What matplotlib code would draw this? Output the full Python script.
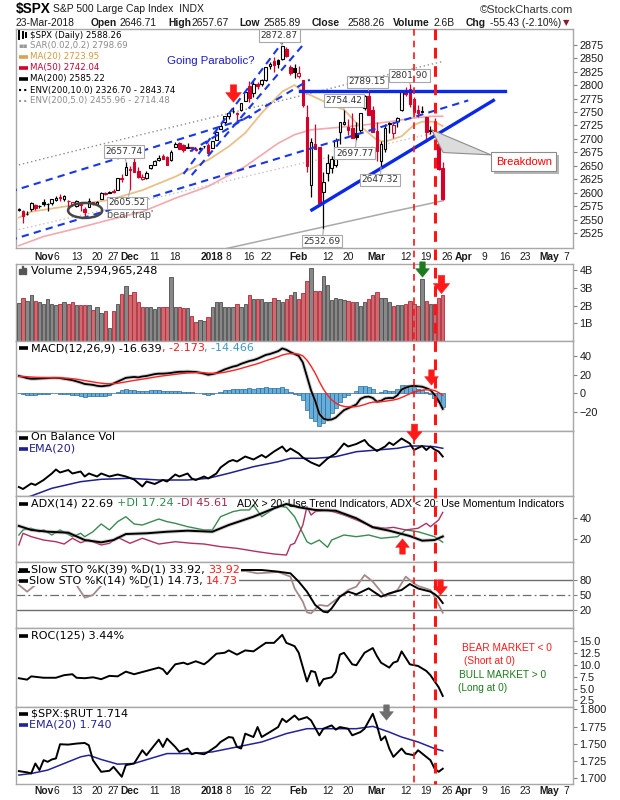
import matplotlib
matplotlib.use('Agg')
import matplotlib.pyplot as plt
import numpy as np
from matplotlib.path import Path
from matplotlib.patches import Rectangle, Ellipse, Polygon
from matplotlib.lines import Line2D
import matplotlib.transforms as mtransforms
import matplotlib.patheffects as pe

plt.rcParams['font.family'] = ['Liberation Sans', 'DejaVu Sans']

# ---------------------------------------------------------------- data
# daily OHLC, 24-Oct-2017 .. 23-Mar-2018 (trading-day index 0..103)
opens = [2568.66, 2566.52, 2560.08, 2570.26, 2577.75, 2575.99,
         2583.21, 2579.46, 2581.93, 2587.47, 2592.11, 2588.71, 2584.00, 2580.18, 2576.53, 2577.75, 2569.45,
         2572.95, 2582.94, 2579.49, 2589.17, 2600.31, 2600.42, 2602.66, 2605.94, 2627.82, 2633.93,
         2645.10, 2657.19, 2639.78, 2626.24, 2628.38, 2646.21, 2652.19, 2661.73, 2667.59, 2665.87, 2660.63,
         2685.92, 2692.71, 2688.18, 2683.02, 2684.22, 2679.09, 2682.10, 2686.10, 2689.15,
         2683.73, 2697.85, 2719.31, 2731.33, 2742.67, 2751.15, 2745.55, 2752.97, 2770.18, 2798.96, 2784.99,
         2802.40, 2802.60, 2809.16, 2835.05, 2845.42, 2846.24, 2847.48, 2867.23, 2832.74, 2832.41,
         2816.45, 2808.92, 2741.06, 2614.78, 2690.95, 2685.01, 2601.78, 2636.75, 2646.27, 2651.21, 2713.46,
         2727.14, 2722.99, 2720.53, 2710.42, 2715.80, 2757.37, 2780.45, 2753.78,
         2715.22, 2658.89, 2681.06, 2730.18, 2710.18, 2732.75, 2752.91, 2790.54, 2792.31, 2774.06, 2754.27,
         2750.57, 2741.38, 2715.05, 2714.99, 2691.36, 2646.71]
highs = [2572.18, 2567.40, 2567.07, 2582.98, 2580.03, 2578.29,
         2588.40, 2581.11, 2588.42, 2593.38, 2597.02, 2595.47, 2586.50, 2583.81, 2587.66, 2579.66, 2572.84,
         2590.09, 2583.96, 2584.64, 2601.19, 2600.94, 2604.21, 2606.41, 2627.69, 2634.89, 2657.74,
         2650.62, 2665.19, 2648.72, 2634.41, 2640.99, 2651.65, 2660.33, 2669.72, 2671.88, 2668.09, 2679.63,
         2694.97, 2694.44, 2691.01, 2692.64, 2685.35, 2682.74, 2685.64, 2687.66, 2692.12,
         2695.89, 2714.37, 2729.29, 2743.45, 2748.51, 2759.14, 2750.80, 2767.56, 2787.85, 2807.54, 2807.04,
         2805.83, 2810.33, 2833.03, 2842.24, 2852.97, 2848.56, 2872.87, 2870.62, 2837.75, 2839.26,
         2835.96, 2808.92, 2763.39, 2701.04, 2727.67, 2685.27, 2638.67, 2672.61, 2668.84, 2702.10, 2731.51,
         2754.42, 2737.60, 2747.75, 2731.26, 2747.76, 2780.64, 2789.15, 2761.52,
         2730.89, 2696.25, 2728.09, 2732.08, 2730.60, 2740.45, 2786.57, 2796.98, 2801.90, 2777.11, 2763.03,
         2761.85, 2741.38, 2724.22, 2739.14, 2695.68, 2657.67]
lows = [2565.58, 2544.00, 2559.80, 2565.94, 2568.25, 2572.15,
        2574.92, 2566.17, 2576.77, 2585.66, 2584.35, 2585.02, 2566.33, 2575.57, 2574.48, 2566.56, 2557.45,
        2572.95, 2577.62, 2578.24, 2589.17, 2595.23, 2600.42, 2598.87, 2605.44, 2620.32, 2633.93,
        2605.52, 2639.03, 2627.73, 2624.75, 2626.53, 2644.10, 2651.47, 2659.78, 2662.85, 2652.01, 2659.14,
        2685.92, 2680.74, 2676.11, 2682.40, 2678.13, 2677.96, 2678.91, 2682.69, 2673.61,
        2682.36, 2697.77, 2719.07, 2727.92, 2737.60, 2747.86, 2736.06, 2752.78, 2769.64, 2768.64, 2778.38,
        2792.56, 2798.08, 2808.12, 2830.59, 2824.81, 2830.94, 2846.18, 2851.48, 2818.27, 2813.04,
        2812.70, 2759.97, 2638.17, 2593.07, 2681.33, 2580.56, 2532.69, 2622.45, 2637.08, 2648.87, 2689.82,
        2725.11, 2706.76, 2701.29, 2697.77, 2713.74, 2753.78, 2744.22, 2713.54,
        2659.65, 2647.32, 2675.75, 2711.26, 2701.74, 2721.92, 2751.54, 2779.26, 2758.68, 2744.38, 2741.47,
        2749.97, 2694.59, 2710.05, 2709.79, 2641.59, 2585.89]
closes = [2569.13, 2557.15, 2560.40, 2581.07, 2572.83, 2575.26,
          2579.36, 2579.85, 2587.84, 2591.13, 2590.64, 2594.38, 2584.62, 2582.30, 2584.84, 2578.87, 2564.62,
          2585.64, 2578.85, 2582.14, 2599.03, 2597.08, 2602.42, 2601.42, 2627.04, 2626.07, 2647.58,
          2642.22, 2639.44, 2629.57, 2629.27, 2636.98, 2651.50, 2659.99, 2664.11, 2662.85, 2652.01, 2675.81,
          2690.16, 2681.47, 2679.25, 2684.57, 2683.34, 2680.50, 2682.62, 2687.54, 2673.61,
          2695.81, 2713.06, 2723.99, 2743.15, 2747.71, 2751.29, 2748.23, 2767.56, 2786.24, 2776.42, 2802.56,
          2798.03, 2810.30, 2832.97, 2839.13, 2837.54, 2839.25, 2872.87, 2853.53, 2822.43, 2823.81,
          2821.98, 2762.13, 2648.94, 2695.14, 2681.66, 2581.00, 2619.55, 2656.00, 2662.94, 2698.63, 2731.20,
          2732.22, 2716.26, 2701.33, 2703.96, 2747.30, 2779.60, 2744.28, 2713.83,
          2677.67, 2691.25, 2720.94, 2728.12, 2726.80, 2738.97, 2786.57, 2783.02, 2765.31, 2749.48, 2747.33,
          2752.01, 2712.92, 2716.94, 2711.93, 2643.69, 2588.26]
prev_close0 = 2564.98

volume_b = [2.13, 2.41, 2.26, 2.58, 2.26, 2.22,
            2.07, 2.37, 2.07, 2.03, 2.07, 2.18, 2.07, 2.18, 2.03, 2.03, 2.03, 2.03, 1.75, 1.92, 1.56,
            1.69, 0.72, 1.69, 2.07, 2.64, 3.11,
            2.60, 2.75, 2.22, 1.94, 1.94, 1.90, 1.81, 1.94, 1.94, 1.94, 3.63, 1.94, 1.94, 1.88, 1.88,
            1.41, 1.05, 1.19, 1.11, 1.34,
            1.94, 2.18, 2.18, 1.94, 1.94, 1.94, 2.07, 1.94, 2.07, 2.60, 2.40, 2.35, 2.40, 2.20, 2.20,
            2.45, 2.30, 2.20, 2.40, 2.60, 2.75,
            2.35, 2.70, 3.40, 4.10, 2.85, 2.80, 3.65, 3.15, 2.30, 2.45, 2.35, 2.30, 2.25, 2.20, 2.20,
            2.00, 2.20, 2.35, 2.60,
            2.75, 2.45, 2.45, 2.20, 1.95, 2.05, 2.05, 2.10, 2.25, 2.10, 2.00, 3.50, 2.25, 2.10, 2.10,
            2.45, 2.595]

tick_idx = [6, 9, 14, 19, 23, 27, 33, 38, 47, 51, 56, 60, 68, 75, 80, 87, 94, 99, 104, 108, 113, 118, 123, 129, 133]
tick_lbl = ['Nov', '6', '13', '20', '27', 'Dec', '11', '18', '2018', '8', '16', '22', 'Feb', '12', '20',
            'Mar', '12', '19', '26', 'Apr', '9', '16', '23', 'May', '7']
bold_lbl = ['Nov', 'Dec', '2018', 'Feb', 'Mar', 'Apr', 'May']

ma20_idx = [0, 3, 14, 22, 30, 38, 43, 46, 51, 55, 59, 64, 67, 69, 74, 79, 82, 85, 87, 89, 93, 96, 98, 101, 103]
ma20_val = [2554, 2565, 2578, 2587, 2605, 2630, 2649, 2661, 2686, 2711, 2748, 2788, 2800, 2788, 2770, 2754,
            2730, 2711, 2698, 2695, 2705, 2726, 2732, 2732, 2723.95]
ma50_idx = [0, 6, 14, 22, 30, 38, 46, 55, 63, 67, 71, 77, 84, 90, 96, 100, 103]
ma50_val = [2502, 2519, 2534, 2550, 2565, 2590, 2612, 2649, 2692, 2708, 2717, 2721, 2726, 2732, 2739, 2742, 2742.04]
ma200_idx = [0, 20, 40, 60, 70, 80, 90, 103]
ma200_val = [2411, 2445, 2479, 2513, 2530, 2547, 2564, 2585.22]
env10_val = [2652, 2690, 2727, 2764, 2783, 2802, 2820, 2843.74]
env5_val = [2532, 2567, 2603, 2639, 2657, 2674, 2692, 2714.48]

macd_line = [18.5, 17.5, 16.2, 15.5, 15.5, 15.8, 16.0, 16.2, 16.5, 16.5,
             16.2, 15.5, 14.8, 14.0, 12.8, 11.5, 10.0, 9.5, 9.0, 8.0,
             7.5, 8.0, 8.5, 10.5, 12.5, 14.5, 16.5, 17.0, 17.5, 17.0,
             18.0, 18.5, 19.5, 20.5, 21.0, 21.0, 21.3, 21.8, 22.5, 23.0,
             23.0, 23.2, 23.0, 22.8, 22.0, 21.0, 19.8, 20.5, 21.5, 23.5,
             25.5, 27.0, 28.5, 29.5, 31.5, 33.0, 34.5, 35.5, 37.0, 39.0,
             41.0, 42.0, 43.5, 45.0, 48.0, 46.5, 44.0, 42.0, 40.0, 33.0,
             18.0, 3.0, -8.0, -22.0, -27.0, -28.5, -28.0, -26.0, -22.0, -18.0,
             -16.0, -14.0, -12.0, -6.0, -4.0, -3.5, -5.0, -9.0, -8.0, -5.5,
             -5.0, -5.0, -2.0, 4.0, 6.0, 7.5, 8.0, 7.5, 7.0, 5.5,
             3.5, -1.5, -8.0, -16.639]
macd_signal = [18.0, 17.9, 17.7, 17.4, 17.1, 16.9, 16.8, 16.7, 16.6, 16.6,
               16.5, 16.3, 16.0, 15.6, 15.1, 14.4, 13.6, 12.9, 12.2, 11.4,
               10.8, 10.4, 10.2, 10.3, 10.7, 11.4, 12.2, 13.0, 13.8, 14.4,
               15.1, 15.8, 16.5, 17.3, 18.0, 18.6, 19.1, 19.7, 20.3, 20.8,
               21.3, 21.7, 21.9, 22.1, 22.1, 21.9, 21.5, 21.3, 21.4, 21.8,
               22.5, 23.4, 24.4, 25.4, 26.6, 27.9, 29.2, 30.4, 31.7, 33.2,
               34.8, 36.2, 37.6, 39.1, 40.9, 42.0, 42.4, 42.3, 41.8, 40.0,
               35.5, 29.0, 21.5, 12.5, 4.5, -2.0, -7.0, -10.5, -12.8, -14.0,
               -14.5, -14.5, -14.2, -13.3, -12.0, -10.5, -9.5, -9.3, -9.0, -8.5,
               -7.8, -7.2, -6.2, -4.5, -2.5, -0.5, 1.2, 2.5, 3.4, 3.8,
               3.8, 3.0, 0.8, -2.173]

obv_idx = [0, 1, 3, 4, 6, 8, 9, 10, 12, 13, 15, 16, 17, 19, 20, 22, 24, 26, 28, 30, 31, 33, 35, 36, 38, 39,
           41, 42, 43, 45, 46, 48, 49, 51, 52, 53, 55, 57, 59, 60, 62, 64, 65, 66, 68, 69, 71, 73, 75, 77,
           79, 80, 82, 84, 85, 87, 89, 90, 91, 93, 95, 96, 98, 99, 100, 101, 102, 103]
obv_val = [9, 7, 12.5, 11, 16, 22.5, 26.5, 23.5, 26, 22.5, 24.5, 19.5, 22.5, 19.5, 22.5, 19.5, 21.5, 19.5,
           16.5, 9.5, 14.5, 12, 16, 14.5, 21.5, 19.5, 22.5, 17.5, 16, 19.5, 17.5, 22.5, 28.5, 34.5, 36,
           34.5, 39.5, 36.5, 41, 38.5, 44.5, 49.5, 44.5, 47.5, 42.5, 38.5, 33.5, 30, 37.5, 42.5, 52.5,
           49.5, 52, 56, 51, 45, 49.5, 53.5, 51, 57.5, 52.5, 46, 50, 46, 49.5, 46.5, 44.5, 39.5]
obv_ema_idx = [0, 3, 8, 15, 20, 27, 34, 41, 46, 51, 57, 63, 66, 68, 72, 77, 82, 87, 92, 95, 98, 101, 103]
obv_ema_val = [-4, 0, 7.7, 14.3, 16.7, 17.7, 16, 16, 17.7, 22.7, 29.3, 34.3, 37.7, 37.7, 37.7, 39.3, 44.3,
               46, 47.7, 50, 50, 49.3, 47.7]

adx_idx = [0, 3, 7, 12, 16, 20, 23, 26, 31, 36, 41, 47, 51, 57, 62, 65, 68, 72, 77, 82, 86, 90, 95, 98, 101, 103]
adx_val = [32.7, 28.9, 27.2, 26.3, 19.3, 17.1, 19.3, 25.0, 25.7, 27.2, 28.2, 27.2, 33.6, 41.5, 49.5, 53.6,
           50.5, 47.9, 47.2, 40.0, 31.4, 28.2, 23.1, 18.7, 19.3, 22.69]
pdi_idx = [0, 1, 3, 5, 6, 8, 10, 13, 15, 16, 18, 20, 22, 24, 26, 28, 30, 34, 36, 38, 41, 45, 47, 49, 52, 54,
           56, 57, 59, 63, 65, 67, 68, 70, 71, 73, 75, 76, 79, 82, 85, 88, 92, 94, 97, 101, 103]
pdi_val = [24.1, 28.9, 30.5, 27.2, 28.9, 24.1, 28.9, 22.5, 25.7, 22.5, 27.2, 34.6, 28.9, 36.8, 41.5, 34.6,
           33.6, 39.3, 36.8, 35.2, 32.0, 28.9, 28.9, 41.5, 46.3, 47.9, 47.9, 52.7, 41.5, 51.7, 50.5, 41.5,
           33.6, 17.7, 15.5, 19.3, 12.4, 19.3, 24.1, 22.5, 24.1, 21.0, 22.5, 28.9, 27.2, 22.5, 17.24]
mdi_idx = [0, 1, 3, 6, 9, 11, 13, 15, 17, 20, 22, 24, 27, 30, 34, 38, 42, 45, 49, 53, 58, 62, 65, 66, 67, 69,
           70, 71, 72, 75, 79, 82, 86, 89, 91, 94, 97, 99, 100, 102, 103]
mdi_val = [14.6, 25.7, 22.5, 19.3, 17.7, 15.5, 21.0, 16.8, 19.3, 14.6, 16.2, 21.9, 16.2, 21.0, 15.5, 17.7,
           16.2, 15.5, 13.0, 11.4, 8.2, 6.0, 5.0, 14.6, 16.2, 33.6, 51.0, 43.1, 46.3, 47.9, 43.1, 38.4,
           32.0, 30.5, 31.4, 28.9, 30.5, 35.2, 32.0, 38.4, 45.61]

sto39_idx = [0, 10, 20, 30, 40, 47, 54, 59, 63, 66, 68, 70, 72, 74, 75, 76, 78, 80, 82, 85, 88, 90, 93, 95,
             97, 100, 101, 102, 103]
sto39_val = [96, 97, 95, 98, 97, 96, 100, 100, 96.7, 93.3, 76.7, 56.7, 30, 16.7, 15.3, 23.3, 46.7, 56.7,
             51.3, 63.3, 46.7, 53.3, 60, 72, 63, 56.7, 52, 45, 33.92]
sto14_idx = [0, 2, 4, 6, 9, 12, 14, 16, 18, 20, 22, 25, 28, 30, 31, 32, 35, 40, 45, 46, 48, 51, 55, 58, 63,
             66, 67, 69, 70, 71, 73, 75, 78, 80, 82, 84, 86, 89, 92, 94, 96, 97, 100, 101, 103]
sto14_val = [70, 56.7, 70, 90, 96, 92, 70, 44.7, 50, 68.7, 92, 97, 95, 73.3, 65.3, 70, 90, 95, 86.7, 73.3,
             90, 97, 98, 93.3, 96, 86.7, 63.3, 36.7, 15.3, 13.3, 30, 28, 46.7, 60, 66.7, 90, 76.7, 46.7,
             60, 86.7, 73.3, 68, 60, 46.7, 14.73]

roc_idx = [0, 2, 3, 6, 9, 11, 13, 14, 16, 18, 20, 22, 24, 26, 28, 31, 34, 35, 36, 38, 40, 41, 43, 45, 46, 48,
           50, 51, 53, 55, 57, 58, 60, 62, 64, 65, 67, 68, 70, 71, 72, 73, 74, 76, 77, 78, 79, 81, 82, 84,
           86, 87, 88, 90, 91, 92, 93, 95, 97, 99, 100, 102, 103]
roc_val = [7.2, 6.9, 7.6, 7.3, 7.3, 7.85, 8.05, 7.3, 7.2, 7.4, 7.0, 7.7, 7.6, 8.6, 8.05, 8.75, 9.45, 9.1,
           8.05, 10.15, 10.5, 10.15, 10.8, 10.15, 10.8, 12.4, 12.6, 13.1, 12.2, 13.1, 12.9, 13.5, 14.7,
           14.7, 16.4, 14.7, 14.0, 12.6, 6.5, 8.75, 8.5, 5.6, 7.0, 7.4, 8.5, 12.2, 12.6, 10.15, 9.95,
           12.6, 13.6, 11.9, 10.5, 9.45, 10.5, 10.8, 12.9, 10.15, 9.8, 8.75, 7.85, 5.3, 3.44]

rut_idx = [0, 2, 3, 4, 5, 6, 7, 8, 9, 10, 12, 14, 16, 17, 18, 20, 22, 23, 25, 26, 28, 30, 31, 34, 35, 36, 38,
           39, 41, 42, 43, 45, 46, 48, 49, 51, 52, 53, 54, 55, 57, 58, 59, 61, 63, 64, 65, 67, 68, 70, 71,
           73, 74, 76, 77, 78, 80, 81, 83, 84, 86, 87, 88, 89, 90, 91, 93, 94, 96, 97, 99, 100, 101, 102, 103]
rut_val = [1.7105, 1.7087, 1.7072, 1.7216, 1.712, 1.7264, 1.724, 1.7274, 1.7289, 1.7495, 1.749, 1.7505,
           1.7514, 1.748, 1.7264, 1.7095, 1.711, 1.7167, 1.7023, 1.7192, 1.7216, 1.7408, 1.7336, 1.7562,
           1.7456, 1.7577, 1.7456, 1.7384, 1.7433, 1.735, 1.737, 1.735, 1.7384, 1.7466, 1.7528, 1.76,
           1.7591, 1.7456, 1.7433, 1.7649, 1.76, 1.7745, 1.76, 1.7672, 1.7745, 1.7866, 1.7817, 1.7913,
           1.7851, 1.7889, 1.7841, 1.7625, 1.7721, 1.7769, 1.7707, 1.7745, 1.7721, 1.7625, 1.7672, 1.7721,
           1.7938, 1.7769, 1.7553, 1.761, 1.7433, 1.7312, 1.7433, 1.736, 1.7336, 1.7408, 1.7312, 1.7264,
           1.7144, 1.7095, 1.714]
rut_ema_idx = [0, 3, 7, 11, 15, 17, 20, 24, 28, 32, 36, 42, 47, 53, 59, 65, 70, 76, 82, 86, 90, 93, 97, 101, 103]
rut_ema_val = [1.7048, 1.707, 1.712, 1.7216, 1.7312, 1.7336, 1.7274, 1.7206, 1.7216, 1.7289, 1.736, 1.736,
               1.7384, 1.7456, 1.7528, 1.765, 1.7721, 1.7721, 1.7721, 1.7755, 1.7672, 1.76, 1.7528,
               1.7433, 1.740]

# hand-drawn annotations (date index, price)
dashed_trend = [((-2.2, 2512), (109.2, 2771.5)), ((-2.2, 2602), (56.6, 2741)),
                ((41.6, 2677), (70.7, 2810)), ((40, 2635), (65.1, 2890)), ((42, 2633), (69.1, 2875))]
solid_trend = [((68.3, 2789), (118.1, 2789)), ((71.2, 2568.3), (115.3, 2771.5))]
marker_days = [96, 101]
label_vals = [2872.87, 2657.74, 2605.52, 2789.15, 2801.90, 2754.42, 2697.77, 2647.32, 2532.69]
label_days = [64, 26, 27, 85, 95, 79, 82, 88, 74]
label_box_x = [63.3, 25.6, 26.3, 84.7, 94.9, 78.9, 81.6, 87.8, 73.7]
label_box_y = [2892, 2676.7, 2581.7, 2806.2, 2817.7, 2771.5, 2673.7, 2624, 2510.1]

# ---------------------------------------------------------------- figure
W, H = 620, 800
fig = plt.figure(figsize=(W / 100, H / 100), dpi=100)
fig.patch.set_facecolor('white')
renderer = fig.canvas.get_renderer()
X0, X1 = 16, 573
XLIM = (-0.7, 134.65)
LEG = 'DejaVu Sans'
LEGSZ = 6.2      # price-panel legend
PSZ = 8.0        # indicator-panel legends


def add_panel(top, bottom):
    ax = fig.add_axes([X0 / W, 1 - bottom / H, (X1 - X0) / W, (bottom - top) / H])
    ax.set_xlim(*XLIM)
    for s in ax.spines.values():
        s.set_color('#a8a8a8')
        s.set_linewidth(1.0)
    ax.yaxis.tick_right()
    ax.tick_params(axis='y', direction='out', length=3, width=0.8, color='#808080',
                   labelsize=7.8, pad=1.5, labelcolor='#1a1a1a')
    ax.set_xticks([])
    return ax


def seq(x_px, y_px, pieces, size=LEGSZ, family=LEG, bbox=None):
    x = x_px
    for p in pieces:
        txt, col = p[0], p[1]
        wt = p[2] if len(p) > 2 else 'normal'
        t = fig.text(x / W, 1 - y_px / H, txt, color=col, fontsize=size, fontweight=wt,
                     family=family, ha='left', va='center', parse_math=False, zorder=15)
        if bbox is not None:
            t.set_bbox(bbox)
        x = t.get_window_extent(renderer).x1
    return x


def icon(x0, x1, y, color, lw=2.6, ls='-'):
    fig.add_artist(Line2D([x0 / W, x1 / W], [1 - y / H, 1 - y / H], color=color, lw=lw, ls=ls,
                          solid_capstyle='butt', zorder=15))


def arrow_path(up=False):
    v = [(-0.36, 1), (0.36, 1), (0.36, 0.1), (0.9, 0.1), (0, -1), (-0.9, 0.1), (-0.36, 0.1), (-0.36, 1)]
    if up:
        v = [(a, -b) for a, b in v]
    return Path(v, [Path.MOVETO] + [Path.LINETO] * 6 + [Path.CLOSEPOLY])


def arrow(ax, x, y, color, size=11.5, up=False):
    ax.plot([x], [y], marker=arrow_path(up), markersize=size, color=color, mec=color, mew=0.4,
            clip_on=False, zorder=30, ls='none')


ax_p = add_panel(29, 248)
ax_v = add_panel(264, 341)
ax_m = add_panel(341, 431)
ax_o = add_panel(431, 496)
ax_a = add_panel(496, 562)
ax_s = add_panel(562, 628)
ax_r = add_panel(628, 707)
ax_x = add_panel(707, 784)

RED = '#d4002a'
n = len(closes)
prev = [prev_close0] + closes[:-1]

# ---------------- price panel
ax_p.set_ylim(2497.7, 2904)
ax_p.set_yticks(np.arange(2525, 2876, 25))
ax_p.plot(ma200_idx, env10_val, color='#8f8f8f', lw=1.0, ls=(0, (1, 2)), zorder=2)
ax_p.plot(ma200_idx, env5_val, color='#c4c4c4', lw=1.0, ls=(0, (1, 2)), zorder=2)
ax_p.plot(ma200_idx, ma200_val, color='#a9a9a9', lw=1.1, zorder=2)
ax_p.plot(ma50_idx, ma50_val, color='#f3a9ad', lw=1.2, zorder=2)
ax_p.plot(ma20_idx, ma20_val, color='#e9c088', lw=1.3, zorder=2)
for i in range(n):
    o, h, l, c = opens[i], highs[i], lows[i], closes[i]
    col = RED if c < prev[i] else 'black'
    ax_p.plot([i, i], [l, h], color=col, lw=0.9, zorder=3, solid_capstyle='butt')
    bot, top = min(o, c), max(o, c)
    face = 'white' if c >= o else col
    ax_p.add_patch(Rectangle((i - 0.32, bot), 0.64, max(top - bot, 0.7), facecolor=face,
                             edgecolor=col, lw=0.8, zorder=4))
for (a, b) in dashed_trend:
    ax_p.plot([a[0], b[0]], [a[1], b[1]], color='#1837e8', lw=1.5, ls=(0, (3.5, 2.5)), zorder=5)
for (a, b) in solid_trend:
    ax_p.plot([a[0], b[0]], [a[1], b[1]], color='#0a28e8', lw=2.4, zorder=5)
for v, d, bx, by in zip(label_vals, label_days, label_box_x, label_box_y):
    ax_p.annotate(f'{v:.2f}', xy=(d, v), xytext=(bx, by), ha='center', va='center', fontsize=6.5,
                  family=LEG, color='#333333', zorder=12, annotation_clip=False,
                  bbox=dict(boxstyle='square,pad=0.18', fc='white', ec='#a8a8a8', lw=0.8),
                  arrowprops=dict(arrowstyle='-', color='#a8a8a8', lw=0.8, shrinkA=0, shrinkB=0))
ax_p.add_patch(Ellipse((16.1, 2567.4), 8.3, 27.9, fill=False, ec='#474747', lw=1.8, zorder=6))
ax_p.text(21.3, 2559, "bear trap'", fontsize=7.8, color='#555555', va='center', ha='left', zorder=7)
ax_p.text(35.9, 2844, 'Going Parabolic?', fontsize=8.2, color='#1a1acc', va='center', ha='left', zorder=7)
ax_p.add_patch(Polygon([(100.3, 2717), (114.7, 2670.5), (103.1, 2674.8)], closed=True, fc='#dcdcdc',
                       ec='#8c8c8c', lw=0.8, zorder=11))
bt = ax_p.text(122.7, 2657.5, 'Breakdown', ha='center', va='center', fontsize=8, color='#ff0000',
               zorder=12, bbox=dict(boxstyle='square,pad=0.4', fc='white', ec='#8c8c8c', lw=0.8))
bt.get_bbox_patch().set_path_effects([pe.SimplePatchShadow(offset=(2, -2), shadow_rgbFace='#b5b5b5', alpha=1),
                                      pe.Normal()])
arrow(ax_p, 52.1, 2785, '#ff1a1a', size=12.5)

# ---------------- volume
ax_v.set_ylim(0, 4.35)
ax_v.set_yticks([1, 2, 3, 4])
ax_v.set_yticklabels(['1B', '2B', '3B', '4B'])
for i in range(n):
    down = closes[i] < prev[i]
    ax_v.bar(i, volume_b[i], width=0.82, color='#d06a6e' if down else '#888888',
             edgecolor='#b3283c' if down else '#4d4d4d', lw=0.6, zorder=3)
arrow(ax_v, 98, 4.04, '#1e7a1e', size=11)
arrow(ax_v, 102.6, 3.2, '#ff1a1a', size=13)

# ---------------- MACD
ax_m.set_ylim(-40.3, 55.9)
ax_m.set_yticks([-20, 0, 20, 40])
hist = np.array(macd_line) - np.array(macd_signal)
ax_m.bar(np.arange(n), hist, width=1.0, color='#66aedb', edgecolor='#2d6b98', lw=0.5, zorder=2)
ax_m.plot(np.arange(n), macd_line, color='#9a9a9a', lw=2.8, alpha=0.45, zorder=3)
ax_m.plot(np.arange(n), macd_line, color='black', lw=1.3, zorder=4)
ax_m.plot(np.arange(n), macd_signal, color='#ff2020', lw=1.0, zorder=4)
arrow(ax_m, 100.1, 16.9, '#ff1a1a', size=11)

# ---------------- OBV
ax_o.set_ylim(0, 65)
ax_o.set_yticks([])
ax_o.plot(obv_ema_idx, obv_ema_val, color='#1f1f8f', lw=1.1, zorder=3)
ax_o.plot(obv_idx, obv_val, color='black', lw=1.4, zorder=4)
arrow(ax_o, 96.1, 64.5, '#ff1a1a', size=12)

# ---------------- ADX
ax_a.set_ylim(-1.6, 61.2)
ax_a.set_yticks([20, 40])
ax_a.plot(pdi_idx, pdi_val, color='#3c8a52', lw=1.0, zorder=3)
ax_a.plot(mdi_idx, mdi_val, color='#b03060', lw=1.0, zorder=3)
ax_a.plot(adx_idx, adx_val, color='#9a9a9a', lw=2.8, alpha=0.45, zorder=4)
ax_a.plot(adx_idx, adx_val, color='black', lw=1.4, zorder=5)
arrow(ax_a, 93.1, 14.1, '#ff1a1a', size=11, up=True)

# ---------------- Slow STO
ax_s.set_ylim(-16, 116)
ax_s.set_yticks([20, 50, 80])
ax_s.axhline(80, color='#6e6e6e', lw=1.0, zorder=1)
ax_s.axhline(20, color='#6e6e6e', lw=1.0, zorder=1)
ax_s.axhline(50, color='#6e6e6e', lw=0.9, ls=(0, (7, 2.5, 1.5, 2.5)), zorder=1)
ax_s.plot(sto14_idx, sto14_val, color='#a58a8a', lw=1.3, zorder=3)
ax_s.plot(sto39_idx, sto39_val, color='black', lw=1.4, zorder=4)
arrow(ax_s, 102.3, 67, '#ff1a1a', size=11)

# ---------------- ROC
ax_r.set_ylim(1.1, 17.85)
ax_r.set_yticks([2.5, 5, 7.5, 10, 12.5, 15])
ax_r.set_yticklabels(['2.5', '5.0', '7.5', '10.0', '12.5', '15.0'])
ax_r.plot(roc_idx, roc_val, color='black', lw=1.4, zorder=4)

# ---------------- SPX:RUT
ax_x.set_ylim(1.6918, 1.8036)
ax_x.set_yticks([1.700, 1.725, 1.750, 1.775, 1.800])
ax_x.set_yticklabels(['1.700', '1.725', '1.750', '1.775', '1.800'])
ax_x.plot(rut_ema_idx, rut_ema_val, color='#22229a', lw=1.1, zorder=3)
ax_x.plot(rut_idx, rut_val, color='black', lw=1.4, zorder=4)
arrow(ax_x, 89.3, 1.7957, '#6e6e6e', size=11)

# ---------------- date labels and signal lines
trans = mtransforms.blended_transform_factory(ax_p.transData, fig.transFigure)
for ti, tl in zip(tick_idx, tick_lbl):
    for ypx in (256.5, 791.5):
        fig.text(ti, 1 - ypx / H, tl, transform=trans, ha='center', va='center', fontsize=7.4,
                 fontweight='bold' if tl in bold_lbl else 'normal', color='#1a1a1a')
for k, xi in enumerate(marker_days):
    fig.add_artist(Line2D([xi, xi], [1 - 29 / H, 1 - 784 / H], transform=trans, color='#ff1414',
                          lw=1.2 if k == 0 else 2.2, ls=(0, (4, 3)) if k == 0 else (0, (3.5, 2.5)), zorder=20))

# ---------------- header
seq(16, 9.5, [('$SPX', 'black', 'bold')], size=9.8, family='Liberation Sans')
seq(53, 9.5, [('S&P 500 Large Cap Index  INDX', '#1a1a1a')], size=7.5, family='Liberation Sans')
fig.text(573 / W, 1 - 10 / H, '\u00a9StockCharts.com', ha='right', va='center', fontsize=8,
         color='#333333', parse_math=False)
seq(16, 23, [('23-Mar-2018', '#1a1a1a')], size=7.4, family='Liberation Sans')
hdr = [(91, 'Open', True), (119, '2646.71', False), (168, 'High', True), (192, '2657.67', False),
       (239, 'Low', True), (263, '2585.89', False), (312, 'Close', True), (347, '2588.26', False),
       (392.5, 'Volume', True), (434, '2.6B', False), (465.6, 'Chg', True), (490, '-55.43 (-2.10%)', False)]
for xp, txt, b in hdr:
    seq(xp, 23, [(txt, '#1a1a1a', 'bold' if b else 'normal')], size=7.4, family='Liberation Sans')
seq(563, 23, [('\u25bc', '#8b1a2a')], size=6, family='DejaVu Sans')

# ---------------- legends
# price legend
for k, xx in enumerate([19.5, 22.5, 25.5]):
    fig.add_artist(Line2D([xx / W, xx / W], [1 - (31 + k) / H, 1 - (39 - k) / H], color='black', lw=1.4))
seq(30, 35, [('$SPX (Daily) 2588.26', 'black')])
seq(18, 45.7, [('\u25aa\u25aa', '#9a9a9a')], size=5)
seq(30, 45.7, [('SAR(0.02,0.2) 2798.69', '#8c8c8c')])
icon(19, 28, 56.7, '#d9a352')
seq(30, 56.7, [('MA(20) 2723.95', '#d39a3c')])
icon(19, 28, 67.7, '#d4002a')
seq(30, 67.7, [('MA(50) 2742.04', '#cc0033')])
icon(19, 28, 79, 'black')
seq(30, 79, [('MA(200) 2585.22', 'black')])
icon(19, 28, 90.3, 'black', lw=1.5, ls=(0, (1, 1.5)))
seq(30, 90.3, [('ENV(200,10.0) 2326.70 - 2843.74', 'black')])
icon(19, 28, 101, '#9a9a9a', lw=1.5, ls=(0, (1, 1.5)))
seq(30, 101, [('ENV(200,5.0) 2455.96 - 2714.48', '#8c8c8c')])

# volume legend
for k, hh in enumerate([5, 8, 6]):
    fig.add_artist(Rectangle(((19 + 2.6 * k) / W, 1 - 274 / H), 1.8 / W, hh / H, color='#555555',
                             transform=fig.transFigure, zorder=15))
seq(31, 270.7, [('Volume 2,594,965,248', 'black')], size=PSZ)

icon(19, 28, 348.5, 'black')
seq(31, 348.5, [('MACD(12,26,9) -16.639', 'black'), (', -2.173', '#ff1a1a'), (', -14.466', '#3a98c4')], size=PSZ)

icon(19, 28, 437.5, 'black')
seq(31, 437.5, [('On Balance Vol', 'black')], size=PSZ)
icon(19, 28, 448.5, '#1f1f8f')
seq(29, 448.5, [('EMA(20)', '#1f1f8f')], size=PSZ)

icon(19, 28, 503.5, 'black')
seq(31, 503.5, [('ADX(14) 22.69 ', 'black'), ('+DI 17.24 ', '#2e8b4f'), ('-DI 45.61', '#a0284b')], size=PSZ)
seq(237, 503.5, [('ADX > 20: Use Trend Indicators, ADX < 20: Use Momentum Indicators', 'black')],
    size=7.6, family='Liberation Sans')

wb = dict(fc='white', ec='none', pad=0.6)
icon(19, 28, 570, 'black')
seq(31, 570, [('Slow STO %K(39) %D(1) 33.92, ', 'black'), ('33.92', '#ff1a1a')], size=PSZ, bbox=wb)
icon(19, 28, 580.5, 'black')
seq(29, 580.5, [('Slow STO %K(14) %D(1) 14.73, ', 'black'), ('14.73', '#ff1a1a')], size=PSZ, bbox=wb)

icon(19, 28, 635.5, 'black')
seq(31, 635.5, [('ROC(125) 3.44%', 'black')], size=PSZ)
seq(462, 648, [('BEAR MARKET < 0', '#ff1a1a')], size=7.3, family='Liberation Sans')
seq(464, 661, [('(Short at 0)', '#ff1a1a')], size=7.3, family='Liberation Sans')
seq(459, 675, [('BULL MARKET > 0', '#1c7a1c')], size=7.3, family='Liberation Sans')
seq(458.5, 688, [('(Long at 0)', '#1c7a1c')], size=7.3, family='Liberation Sans')

icon(19, 28, 713.5, 'black')
seq(31, 713.5, [('$SPX:$RUT 1.714', 'black')], size=PSZ)
icon(19, 28, 724.5, '#22229a')
seq(29, 724.5, [('EMA(20) 1.740', '#22229a')], size=PSZ)

fig.savefig('out.png', dpi=100, facecolor='white')
